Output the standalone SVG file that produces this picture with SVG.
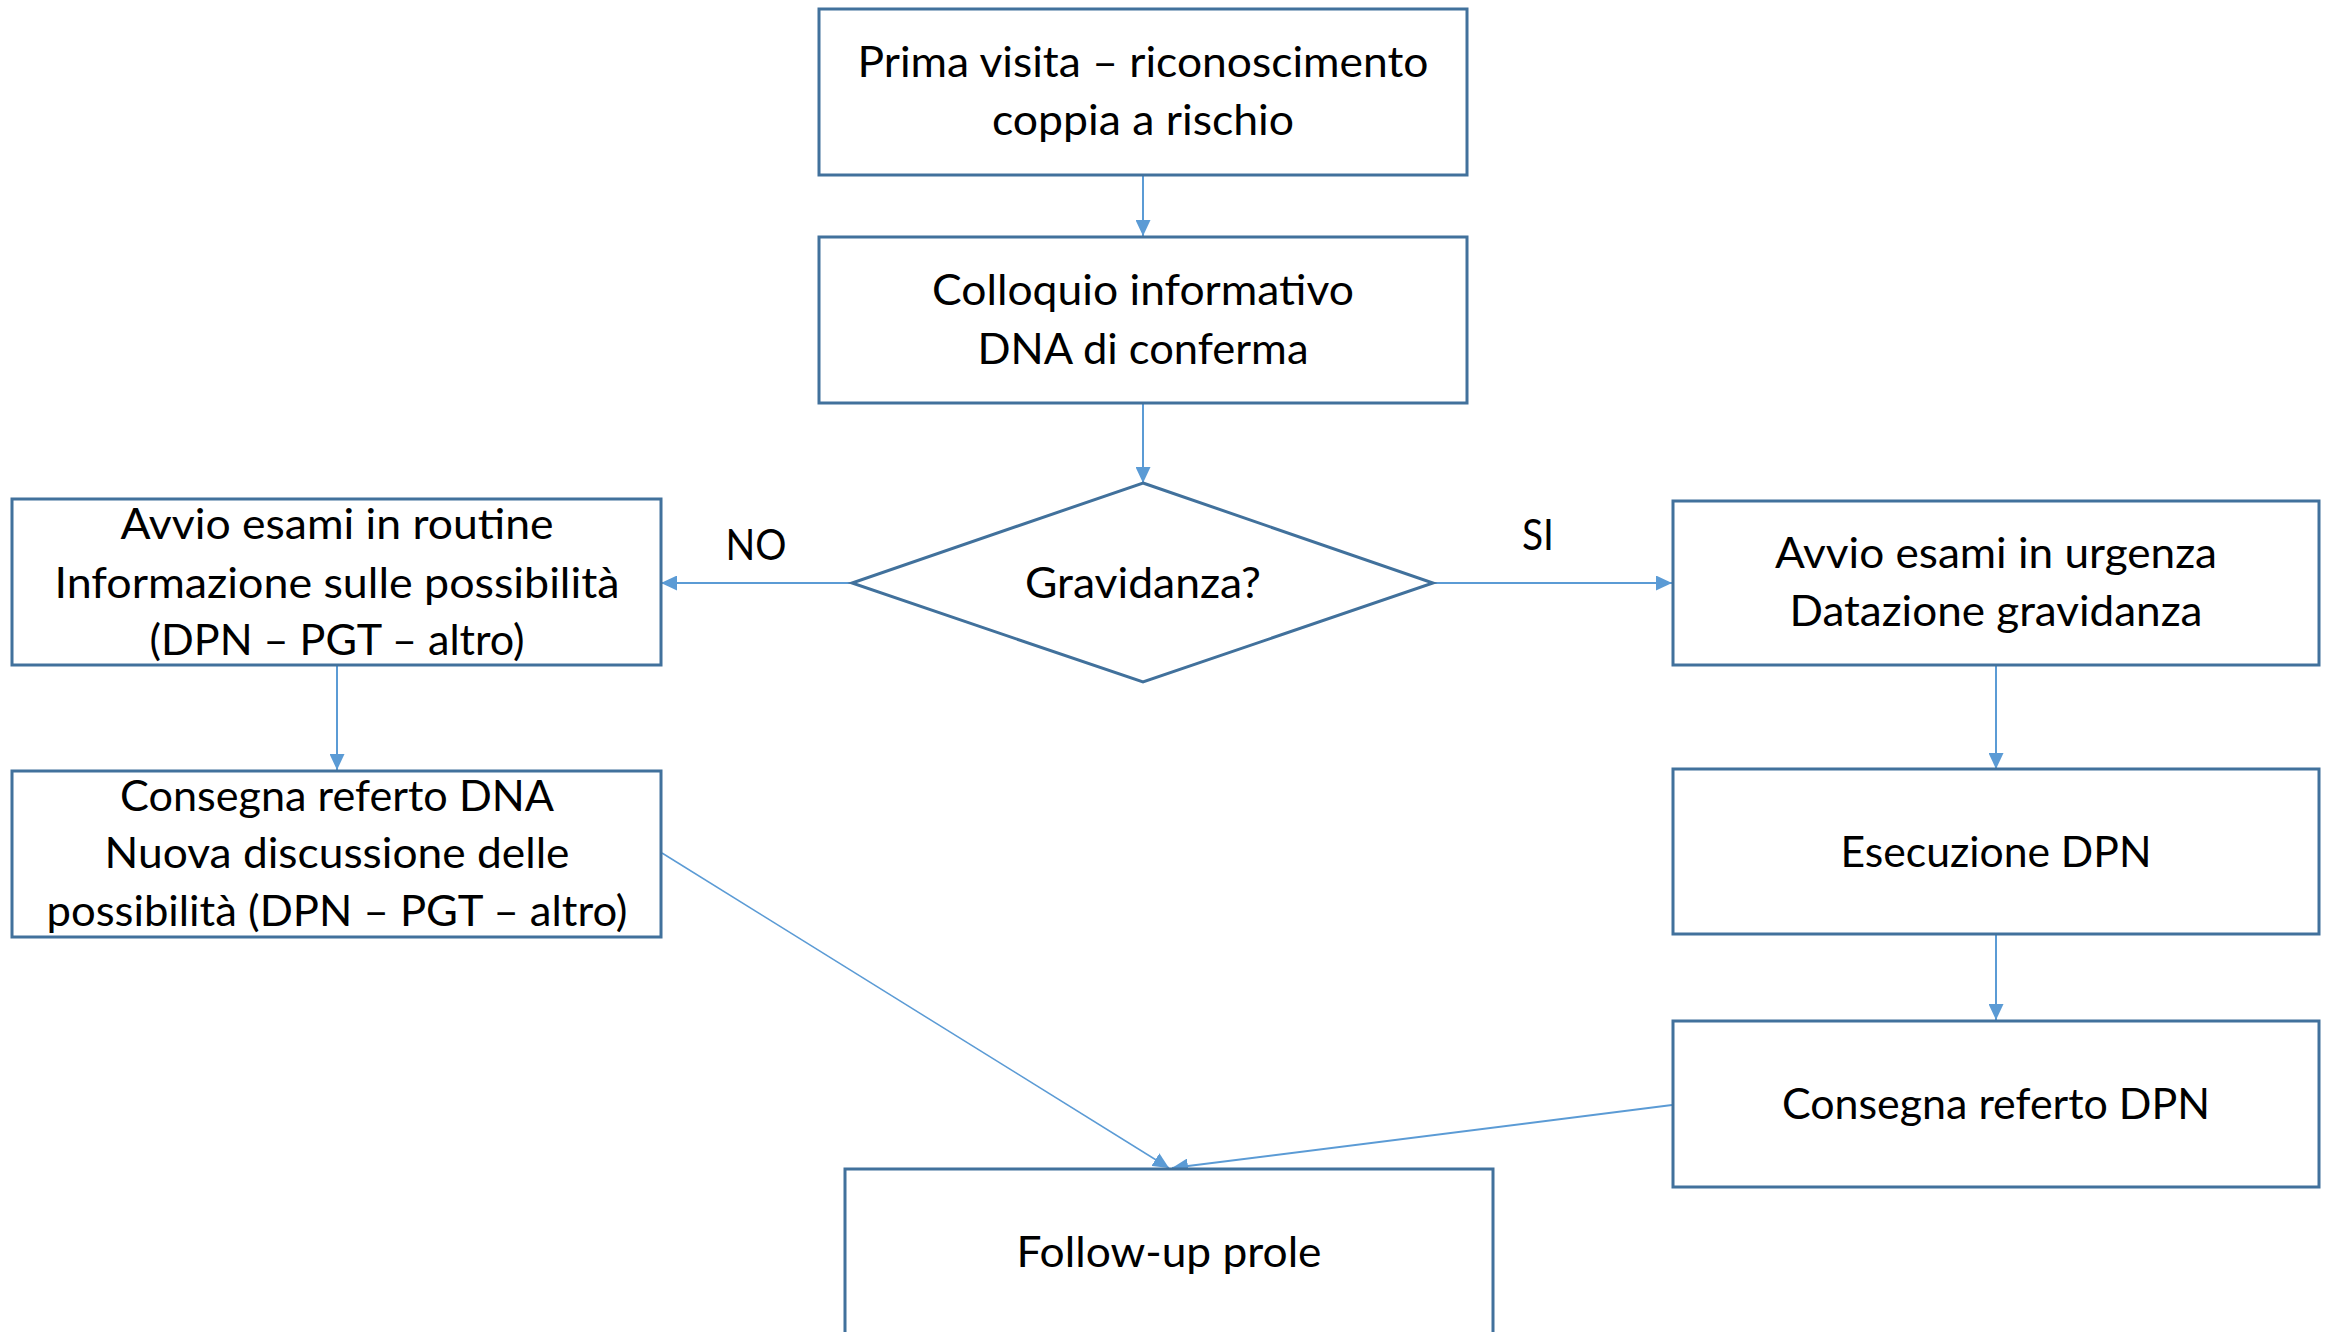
<svg xmlns="http://www.w3.org/2000/svg" width="2331" height="1332" viewBox="0 0 2331 1332">
<style>
.box{fill:#ffffff;stroke:#41719C;stroke-width:3}
.lbl{font-family:Lato,"Open Sans","Liberation Sans",sans-serif;font-size:42px;fill:#000000;text-anchor:middle}
.con{fill:none;stroke:#5B9BD5;stroke-width:2}
</style>
<defs>
<marker id="arr" viewBox="0 0 16 15" refX="16" refY="7.5" markerWidth="16" markerHeight="15" markerUnits="userSpaceOnUse" orient="auto">
<path d="M0,0 L16,7.5 L0,15 z" fill="#5B9BD5"/>
</marker>
</defs>
<rect width="2331" height="1332" fill="#ffffff"/>
<g id="connectors">
<line class="con" x1="1143" y1="175" x2="1143" y2="236" marker-end="url(#arr)"/>
<line class="con" x1="1143" y1="403" x2="1143" y2="483" marker-end="url(#arr)"/>
<line class="con" x1="852" y1="583" x2="661" y2="583" marker-end="url(#arr)"/>
<line class="con" x1="1433" y1="583" x2="1672" y2="583" marker-end="url(#arr)"/>
<line class="con" x1="337" y1="665" x2="337" y2="770" marker-end="url(#arr)"/>
<line class="con" x1="1996" y1="665" x2="1996" y2="769" marker-end="url(#arr)"/>
<line class="con" x1="1996" y1="934" x2="1996" y2="1020" marker-end="url(#arr)"/>
<line class="con" x1="662" y1="853" x2="1169" y2="1168" marker-end="url(#arr)" style="stroke-width:1.5"/>
<line class="con" x1="1672" y1="1105" x2="1172" y2="1168" marker-end="url(#arr)"/>
</g>
<g id="n1">
<rect class="box" x="819" y="9" width="648" height="166"/>
<text class="lbl" x="1143" y="77" textLength="571" lengthAdjust="spacingAndGlyphs">Prima visita – riconoscimento</text>
<text class="lbl" x="1143" y="135" textLength="302" lengthAdjust="spacingAndGlyphs">coppia a rischio</text>
</g>
<g id="n2">
<rect class="box" x="819" y="237" width="648" height="166"/>
<text class="lbl" x="1143" y="305" textLength="422" lengthAdjust="spacingAndGlyphs">Colloquio informativo</text>
<text class="lbl" x="1143" y="364" textLength="331" lengthAdjust="spacingAndGlyphs">DNA di conferma</text>
</g>
<g id="n3">
<polygon class="box" points="1143,483 1433,583 1143,682 852,583"/>
<text class="lbl" x="1143" y="598" textLength="236" lengthAdjust="spacingAndGlyphs">Gravidanza?</text>
</g>
<g id="lbl-no">
<text class="lbl" x="756" y="560" textLength="61" lengthAdjust="spacingAndGlyphs">NO</text>
</g>
<g id="lbl-si">
<text class="lbl" x="1538" y="550" textLength="32" lengthAdjust="spacingAndGlyphs">SI</text>
</g>
<g id="n4">
<rect class="box" x="12" y="499" width="649" height="166"/>
<text class="lbl" x="337" y="539" textLength="433" lengthAdjust="spacingAndGlyphs">Avvio esami in routine</text>
<text class="lbl" x="337" y="598" textLength="565" lengthAdjust="spacingAndGlyphs">Informazione sulle possibilità</text>
<text class="lbl" x="337" y="655" textLength="375" lengthAdjust="spacingAndGlyphs">(DPN – PGT – altro)</text>
</g>
<g id="n5">
<rect class="box" x="12" y="771" width="649" height="166"/>
<text class="lbl" x="337" y="811" textLength="434" lengthAdjust="spacingAndGlyphs">Consegna referto DNA</text>
<text class="lbl" x="337" y="868" textLength="465" lengthAdjust="spacingAndGlyphs">Nuova discussione delle</text>
<text class="lbl" x="337" y="926" textLength="581" lengthAdjust="spacingAndGlyphs">possibilità (DPN – PGT – altro)</text>
</g>
<g id="n6">
<rect class="box" x="1673" y="501" width="646" height="164"/>
<text class="lbl" x="1996" y="568" textLength="442" lengthAdjust="spacingAndGlyphs">Avvio esami in urgenza</text>
<text class="lbl" x="1996" y="626" textLength="413" lengthAdjust="spacingAndGlyphs">Datazione gravidanza</text>
</g>
<g id="n7">
<rect class="box" x="1673" y="769" width="646" height="165"/>
<text class="lbl" x="1996" y="867" textLength="311" lengthAdjust="spacingAndGlyphs">Esecuzione DPN</text>
</g>
<g id="n8">
<rect class="box" x="1673" y="1021" width="646" height="166"/>
<text class="lbl" x="1996" y="1119" textLength="428" lengthAdjust="spacingAndGlyphs">Consegna referto DPN</text>
</g>
<g id="n9">
<rect class="box" x="845" y="1169" width="648" height="200"/>
<text class="lbl" x="1169" y="1267" textLength="305" lengthAdjust="spacingAndGlyphs">Follow-up prole</text>
</g>
</svg>
